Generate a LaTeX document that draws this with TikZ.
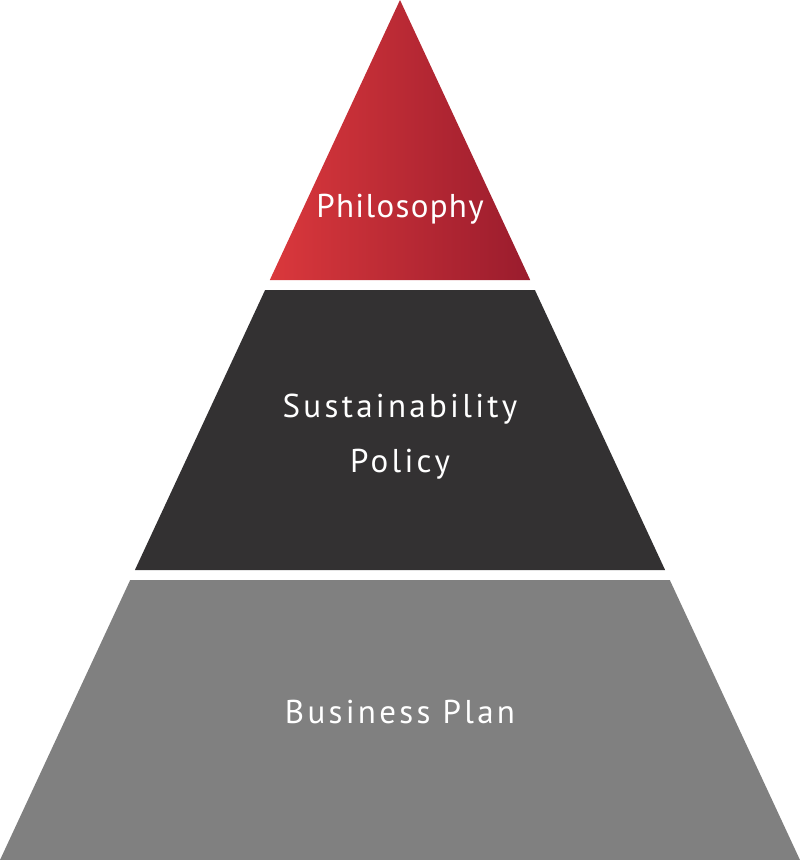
\documentclass[tikz,border=0pt]{standalone}
\usepackage{fontspec}
\setsansfont{PT Sans}
\newfontfamily\tierfont[LetterSpace=4]{PT Sans}
\newfontfamily\widefont[LetterSpace=10]{PT Sans}
\definecolor{philoleft}{HTML}{DA383C}
\definecolor{philoright}{HTML}{9A1C2D}
\definecolor{policydark}{HTML}{333132}
\definecolor{plangray}{HTML}{808080}

\begin{document}
\begin{tikzpicture}[x=1pt, y=-1pt,
  tier/.style={text=white, anchor=base, font=\tierfont\fontsize{33}{40}\selectfont},
  widetier/.style={tier, font=\widefont\fontsize{33}{40}\selectfont},
]
\useasboundingbox (0,0) rectangle (800,860);
% three bands of the pyramid
\shade[left color=philoleft, right color=philoright] (400,0) -- (530.2,280) -- (269.8,280) -- cycle;
\fill[policydark] (265.1,290) -- (534.9,290) -- (665.1,570) -- (134.9,570) -- cycle;
\fill[plangray] (130.2,580) -- (669.8,580) -- (800,860) -- (0,860) -- cycle;
% labels
\node[tier] (philosophy) at (400,217) {Philosophy};
\node[widetier] (sustain) at (400,417) {Sustainability};
\node[widetier] (policy) at (400,472) {Policy};
\node[widetier] (business) at (400,723) {Business Plan};
\end{tikzpicture}
\end{document}
